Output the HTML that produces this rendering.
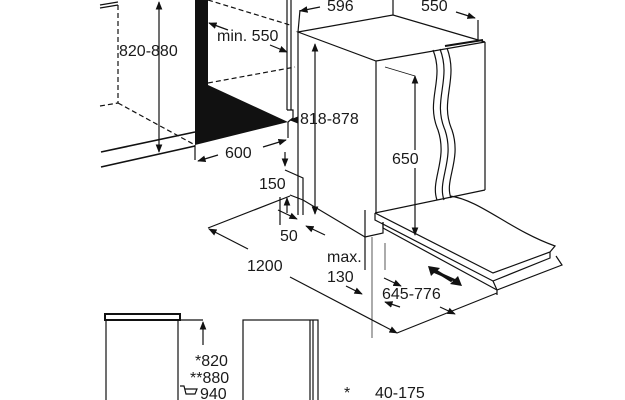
<!DOCTYPE html>
<html><head><style>
html,body{margin:0;padding:0;background:#fff;}
svg{display:block;}
text{font-family:"Liberation Sans",sans-serif;font-size:16px;fill:#1a1a1a;}
</style></head><body>
<svg width="625" height="400" viewBox="0 0 625 400" xmlns="http://www.w3.org/2000/svg">
<defs>
<marker id="a" viewBox="0 0 10 10" refX="9" refY="5" markerWidth="7" markerHeight="7" orient="auto-start-reverse"><path d="M0,1 L10,5 L0,9 z" fill="#111"/></marker>
</defs>
<g stroke="#111" stroke-width="1.2" fill="none">
<line x1="100" y1="5" x2="118" y2="2"/>
<line x1="100" y1="8" x2="118" y2="5"/>
<line x1="118" y1="5" x2="118" y2="103" stroke-dasharray="5,3"/>
<line x1="100" y1="106" x2="118" y2="103" stroke-dasharray="5,3"/>
<line x1="118" y1="103" x2="195" y2="145" stroke-dasharray="5,3"/>
<line x1="101" y1="152" x2="195" y2="132" stroke-width="1.6"/>
<line x1="101" y1="167" x2="195" y2="146" stroke-width="1.6"/>
<line x1="208" y1="0" x2="290" y2="25" stroke-dasharray="5,3"/>
<line x1="208" y1="83" x2="295" y2="67" stroke-dasharray="5,3"/>
<line x1="159" y1="2" x2="159" y2="152" marker-start="url(#a)" marker-end="url(#a)"/>
<line x1="287" y1="0" x2="287" y2="110"/>
<line x1="291" y1="0" x2="291" y2="110"/>
<polyline points="287,110 293,110 293,118 288,122"/>
<line x1="195" y1="145" x2="195" y2="160"/>
<line x1="288" y1="122" x2="288" y2="138"/>
<line x1="218" y1="155" x2="198" y2="161" marker-end="url(#a)"/>
<line x1="263" y1="147" x2="286" y2="140" marker-end="url(#a)"/>
<line x1="228" y1="30" x2="209" y2="23" marker-end="url(#a)"/>
<line x1="270" y1="45" x2="287" y2="52" marker-end="url(#a)"/>
<line x1="296" y1="120" x2="290" y2="120" marker-end="url(#a)"/>
<line x1="285" y1="152" x2="285" y2="166" marker-end="url(#a)"/>
<polyline points="285,170 303,178 303,215"/>
<polygon points="298,32 393,15 485,42 376,61"/>
<line x1="298" y1="32" x2="298" y2="215"/>
<line x1="376" y1="61" x2="376" y2="213"/>
<line x1="485" y1="42" x2="485" y2="190"/>
<line x1="300" y1="10" x2="298" y2="32"/>
<line x1="393" y1="0" x2="393" y2="15"/>
<line x1="478" y1="20" x2="478" y2="40"/>
<line x1="320" y1="7" x2="300" y2="11" marker-end="url(#a)"/>
<line x1="456" y1="12" x2="475" y2="18" marker-end="url(#a)"/>
<line x1="385" y1="67" x2="415" y2="76" stroke-width="0.7"/>
<line x1="315" y1="44" x2="315" y2="214" marker-start="url(#a)" marker-end="url(#a)"/>
<line x1="415" y1="76" x2="415" y2="150" marker-start="url(#a)"/>
<line x1="415" y1="168" x2="415" y2="235" marker-end="url(#a)"/>
<path d="M433,50 C445,80 425,100 438,130 C448,160 430,180 437,200"/>
<path d="M440,49 C452,80 432,100 445,130 C455,160 437,180 444,200"/>
<path d="M447,48 C459,80 439,100 452,130 C462,160 444,180 451,198"/>
<line x1="445" y1="46" x2="483" y2="40" stroke-width="2"/>
<polyline points="375,213 485,190"/>
<path d="M450,196 C480,200 510,230 555,246 L550,252 L493,273 L375,213"/>
<polyline points="375,213 375,220 493,281 550,258 550,252"/>
<polyline points="383,228 497,290 562,265 556,256"/>
<polyline points="493,281 497,290 497,295"/>
<line x1="383" y1="222" x2="383" y2="228"/>
<polyline points="365,210 365,237 383,233 383,222"/>
<polyline points="365,237 365,270"/>
<line x1="372" y1="237" x2="372" y2="338" stroke-width="0.7"/>
<line x1="385" y1="243" x2="385" y2="270" stroke-width="0.7"/>
<line x1="436" y1="271" x2="452" y2="281" stroke-width="3"/>
<polyline points="290,195 303,200 365,237"/>
<line x1="208" y1="228" x2="290" y2="196"/>
<line x1="280" y1="197" x2="280" y2="225"/>
<line x1="287" y1="213" x2="287" y2="198" marker-end="url(#a)"/>
<line x1="278" y1="210" x2="297" y2="219" marker-end="url(#a)"/>
<line x1="325" y1="235" x2="306" y2="226" marker-end="url(#a)"/>
<line x1="248" y1="249" x2="209" y2="229" marker-end="url(#a)"/>
<line x1="290" y1="277" x2="397" y2="333" marker-end="url(#a)"/>
<line x1="397" y1="333" x2="497" y2="293"/>
<line x1="346" y1="286" x2="362" y2="294" marker-end="url(#a)"/>
<line x1="400" y1="307" x2="385" y2="302" marker-end="url(#a)"/>
<line x1="384" y1="278" x2="401" y2="286" marker-end="url(#a)"/>
<line x1="440" y1="307" x2="455" y2="314" marker-end="url(#a)"/>
<rect x="105" y="314" width="75" height="6" stroke-width="2"/>
<line x1="106" y1="320" x2="106" y2="400"/>
<line x1="178" y1="320" x2="178" y2="400"/>
<line x1="180" y1="320" x2="203" y2="320"/>
<line x1="203" y1="345" x2="203" y2="322" marker-end="url(#a)"/>
<rect x="243" y="320" width="75" height="85"/>
<line x1="310" y1="320" x2="310" y2="400"/>
<line x1="313" y1="320" x2="313" y2="400"/>
<path d="M180,386 L184,386 L186,394 L195,394 L197,389 L185,389"/>
</g>
<polygon points="428,266 440,268 437,271 455,279 458,276 462,286 450,284 453,281 434,273 431,276" fill="#111"/>
<polygon points="195,0 208,0 208,85 288,122 195,145" fill="#111"/>
<text x="119" y="56">820-880</text>
<text x="217" y="41">min. 550</text>
<text x="225" y="158">600</text>
<text x="300" y="124">818-878</text>
<text x="327" y="11">596</text>
<text x="421" y="11">550</text>
<text x="392" y="164">650</text>
<text x="259" y="189">150</text>
<text x="280" y="241">50</text>
<text x="247" y="271">1200</text>
<text x="327" y="262">max.</text>
<text x="327" y="282">130</text>
<text x="382" y="299">645-776</text>
<text x="195" y="366">*820</text>
<text x="190" y="383">**880</text>
<text x="200" y="399">940</text>
<text x="344" y="398">*</text>
<text x="375" y="398">40-175</text>
</svg>
</body></html>
